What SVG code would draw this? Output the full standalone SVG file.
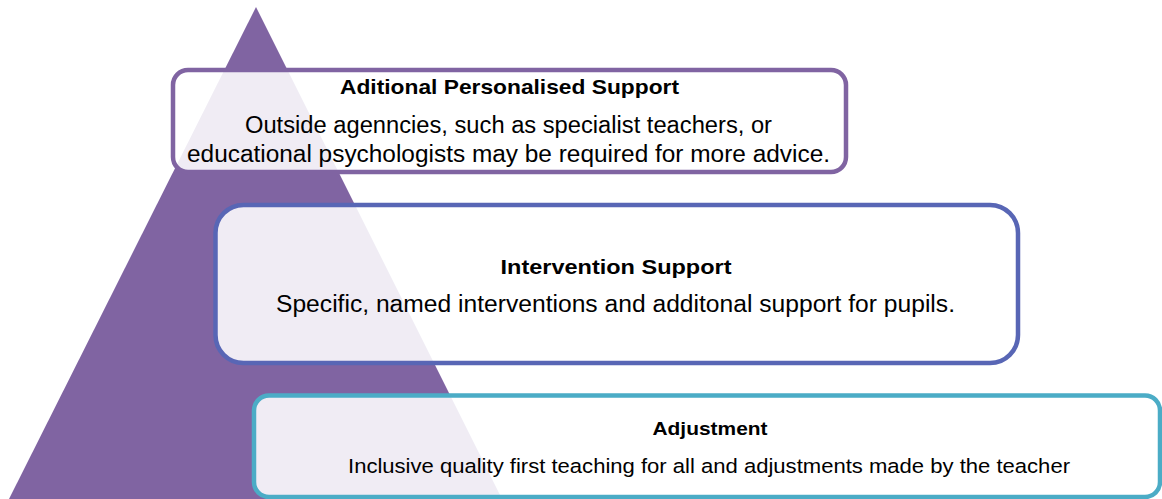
<svg xmlns="http://www.w3.org/2000/svg" width="1162" height="499" viewBox="0 0 1162 499">
  <style>
    .box { fill: #ffffff; fill-opacity: 0.88; stroke-width: 4.5; }
    .t { font-family: "Liberation Sans", Arial, sans-serif; fill: #000000; text-anchor: middle; }
    .title { font-weight: bold; }
  </style>
  <rect x="0" y="0" width="1162" height="499" fill="#ffffff"/>
  <g id="pyramid">
    <polygon points="256,7 9,499 502,499" fill="#8064A2"/>
  </g>
  <g id="connectors"></g>
  <g id="node-personalised">
    <rect class="box" x="173" y="70" width="673" height="102" rx="15" ry="15" stroke="#8064A2"/>
    <text class="t title" x="509.5" y="94" font-size="21" textLength="339" lengthAdjust="spacingAndGlyphs">Aditional Personalised Support</text>
    <text class="t" x="508.5" y="133" font-size="23" textLength="527" lengthAdjust="spacingAndGlyphs">Outside agenncies, such as specialist teachers, or</text>
    <text class="t" x="508.5" y="162" font-size="23" textLength="643" lengthAdjust="spacingAndGlyphs">educational psychologists may be required for more advice.</text>
  </g>
  <g id="node-intervention">
    <rect class="box" x="215.5" y="205" width="802.5" height="158" rx="28" ry="28" stroke="#5866B5"/>
    <text class="t title" x="616" y="273.5" font-size="21" textLength="231" lengthAdjust="spacingAndGlyphs">Intervention Support</text>
    <text class="t" x="615.5" y="311.5" font-size="23" textLength="679" lengthAdjust="spacingAndGlyphs">Specific, named interventions and additonal support for pupils.</text>
  </g>
  <g id="node-adjustment">
    <rect class="box" x="254" y="395.5" width="906" height="101.5" rx="15" ry="15" stroke="#4BACC6"/>
    <text class="t title" x="710" y="435" font-size="19" textLength="115" lengthAdjust="spacingAndGlyphs">Adjustment</text>
    <text class="t" x="709" y="472.5" font-size="20.5" textLength="722" lengthAdjust="spacingAndGlyphs">Inclusive quality first teaching for all and adjustments made by the teacher</text>
  </g>
</svg>
